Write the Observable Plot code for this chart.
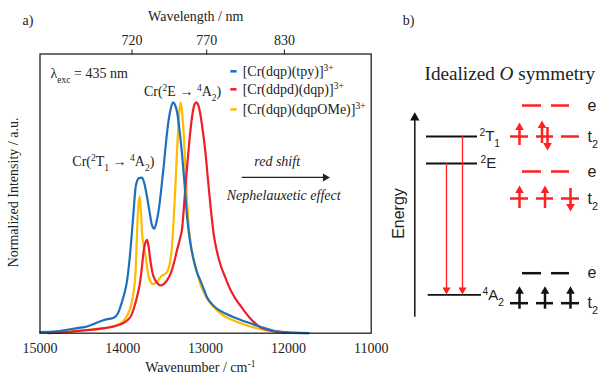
<!DOCTYPE html>
<html>
<head>
<meta charset="utf-8">
<script src="https://cdn.jsdelivr.net/npm/d3@7"></script>
<script src="https://cdn.jsdelivr.net/npm/@observablehq/plot@0.6"></script>
<style>
  body { margin: 0; background: white; }
  #wrap { position: relative; width: 598px; height: 377px; overflow: hidden; }
  #a { position: absolute; left: 0; top: 0; }
  #b { position: absolute; left: 370px; top: 0; width: 228px; }
</style>
</head>
<body>
<div id="wrap"><div id="a"></div><div id="b"></div></div>
<script>
// ---------- Panel a data ----------
const wavenumberTicks = [15000, 14000, 13000, 12000, 11000];
const wavelengthTicks = [720, 770, 830];

const seriesNames = ["[Cr(dqp)(tpy)]^{3+}", "[Cr(ddpd)(dqp)]^{3+}", "[Cr(dqp)(dqpOMe)]^{3+}"];
const seriesColors = ["#1f6fbf", "#ee1f25", "#ffbb00"];

const tpyWn  = [15000,14800,14672,14550,14431,14350,14270,14200,14110,14060,14030,13990,13948,13908,13888,13869,13842,13805,13767,13737,13707,13672,13647,13619,13595,13567,13537,13507,13477,13447,13420,13393,13370,13345,13315,13285,13255,13224,13184,13145,13105,13064,13020,12983,12920,12862,12760,12661,12560,12460,12360,12259,12138,12000,11760];
const tpyInt = [0.005,0.008,0.015,0.022,0.029,0.040,0.052,0.060,0.067,0.085,0.113,0.160,0.229,0.359,0.445,0.532,0.640,0.672,0.674,0.645,0.590,0.515,0.467,0.453,0.480,0.532,0.620,0.720,0.830,0.922,0.975,1.000,0.990,0.960,0.880,0.778,0.650,0.505,0.390,0.320,0.265,0.229,0.190,0.156,0.125,0.106,0.085,0.069,0.055,0.043,0.030,0.019,0.007,0.002,0.000];

const ddpdWn  = [14900,14700,14600,14472,14270,14069,13948,13900,13868,13820,13788,13765,13747,13725,13707,13690,13667,13640,13607,13570,13534,13500,13466,13420,13386,13345,13305,13285,13255,13224,13194,13164,13135,13112,13090,13064,13035,13004,12975,12943,12903,12863,12823,12760,12702,12640,12581,12520,12460,12400,12339,12260,12179,11938,11760];
const ddpdInt = [0.000,0.004,0.008,0.012,0.020,0.033,0.055,0.075,0.106,0.170,0.229,0.300,0.360,0.395,0.405,0.380,0.315,0.260,0.229,0.212,0.207,0.215,0.229,0.260,0.300,0.360,0.416,0.450,0.580,0.720,0.840,0.937,0.990,1.000,0.990,0.950,0.880,0.790,0.680,0.560,0.430,0.355,0.300,0.240,0.190,0.150,0.120,0.090,0.064,0.043,0.026,0.015,0.009,0.003,0.000];

const omeWn  = [14800,14600,14450,14270,14150,14069,14000,13948,13900,13868,13845,13830,13810,13796,13782,13767,13727,13687,13660,13647,13617,13587,13550,13526,13495,13466,13440,13426,13405,13393,13370,13345,13320,13302,13285,13265,13245,13224,13205,13184,13145,13100,13064,12990,12903,12800,12661,12460,12259,12138,12050];
const omeInt = [0.003,0.008,0.013,0.019,0.027,0.036,0.050,0.077,0.120,0.185,0.270,0.420,0.560,0.593,0.530,0.432,0.340,0.243,0.220,0.214,0.215,0.221,0.240,0.250,0.255,0.265,0.290,0.315,0.380,0.445,0.600,0.790,0.950,1.000,0.960,0.866,0.720,0.575,0.470,0.400,0.315,0.260,0.214,0.155,0.113,0.080,0.055,0.029,0.012,0.004,0.000];

// ---------- Panel b data ----------
const levelNames  = ["^{2}T_{1}", "^{2}E", "^{4}A_{2}"];
const levelEnergy = [158.3, 131.3, 0];
const transitionFrom = [131.3, 158.3];
const transitionX = [446, 462];

const orbitalRowEnergy = [189.3, 158.3, 123.3, 96.3, 21.6, -8.4];
const orbitalRowType   = ["e", "t2", "e", "t2", "e", "t2"];
const orbitalRowColor  = ["#ff2020", "#ff2020", "#ff2020", "#ff2020", "#111111", "#111111"];
const eSlots  = [[522, 541], [551, 569]];
const t2Slots = [[510, 528], [536, 553], [561, 579]];
// spins for t2 rows (row index -> per slot): "u" up, "d" down, "ud" pair, "" empty
const t2Spins = {1: ["u", "ud", ""], 3: ["u", "u", "d"], 5: ["u", "u", "u"]};
const t2SpinLift = {1: 1, 3: 0, 5: 4};

// ---------- helpers ----------
function richify(svg) {
  d3.select(svg).selectAll("text").each(function () {
    const s = this.textContent;
    if (!/(\^\{|_\{|\*)/.test(s)) return;
    let target = this;
    if (this.children.length === 1 && this.children[0].tagName === "tspan") target = this.children[0];
    target.textContent = "";
    const parts = s.split(/(\^\{[^}]*\}|_\{[^}]*\}|\*[^*]*\*)/).filter(p => p);
    for (const p of parts) {
      const t = document.createElementNS("http://www.w3.org/2000/svg", "tspan");
      if (p.startsWith("^{")) {
        t.textContent = p.slice(2, -1);
        t.setAttribute("baseline-shift", "super");
        t.setAttribute("font-size", "68%");
      } else if (p.startsWith("_{")) {
        t.textContent = p.slice(2, -1);
        t.setAttribute("baseline-shift", "sub");
        t.setAttribute("font-size", "68%");
      } else if (p.startsWith("*")) {
        t.textContent = p.slice(1, -1);
        t.setAttribute("font-style", "italic");
      } else {
        t.textContent = p;
      }
      target.appendChild(t);
    }
  });
}

// ---------- Panel a ----------
const rows = (wn, I) => wn.map((w, i) => ({wn: w, I: I[i]}));
const tpy = rows(tpyWn, tpyInt), ddpd = rows(ddpdWn, ddpdInt), ome = rows(omeWn, omeInt);

const legendY = [1.135, 1.057, 0.970];
const legend = seriesNames.map((n, i) => ({name: n, color: seriesColors[i], y: legendY[i]}));

const serif = "Liberation Serif, Times New Roman, serif";
const sans = "Liberation Sans, Arial, sans-serif";

const plotA = Plot.plot({
  width: 400, height: 377,
  marginLeft: 39.5, marginRight: 29.3, marginTop: 53.5, marginBottom: 44.3,
  style: {fontFamily: serif, fontSize: "14px", background: "transparent", overflow: "visible", color: "#222"},
  x: {domain: [15000, 11000], axis: null},
  y: {domain: [0, 1.21], axis: null},
  marks: [
    Plot.line(ome,  {x: "wn", y: "I", stroke: seriesColors[2], strokeWidth: 2.2, curve: "monotone-x"}),
    Plot.line(ddpd, {x: "wn", y: "I", stroke: seriesColors[1], strokeWidth: 2.2, curve: "monotone-x"}),
    Plot.line(tpy,  {x: "wn", y: "I", stroke: seriesColors[0], strokeWidth: 2.2, curve: "monotone-x"}),
    Plot.frame({stroke: "#222", strokeWidth: 1.3}),
    Plot.axisX(wavenumberTicks, {anchor: "bottom", tickFormat: d => String(d), tickSize: 0, tickPadding: 10, label: null, fontSize: 14}),
    Plot.axisX(wavelengthTicks.map(l => 1e7 / l), {anchor: "top", tickFormat: d => String(Math.round(1e7 / d)), tickSize: 5, tickPadding: 4, label: null, fontSize: 14}),
    // axis titles
    Plot.text(["Wavelength / nm"], {x: 13119, y: 1.373, text: d => d, fontSize: 14}),
    Plot.text(["Wavenumber / cm^{-1}"], {x: 13064, y: -0.149, text: d => d, fontSize: 14}),
    Plot.text(["Normalized Intensity / a.u."], {x: 15320, y: 0.61, rotate: -90, text: d => d, fontSize: 14}),
    Plot.text(["a)"], {x: 15145, y: 1.356, text: d => d, fontSize: 14}),
    // legend
    Plot.ruleY(legend, {y: "y", x1: 12695, x2: 12620, stroke: "color", strokeWidth: 2.5}),
    Plot.text(legend, {x: 12552, y: "y", text: "name", textAnchor: "start", fontSize: 14}),
    // annotations
    Plot.text(["\u03BB_{exc} = 435 nm"], {x: 14873, y: 1.126, text: d => d, textAnchor: "start", fontSize: 14}),
    Plot.text(["Cr(^{2}E \u2192 ^{4}A_{2})"], {x: 12811, y: 1.048, text: d => d, textAnchor: "end", fontSize: 14}),
    Plot.text(["Cr(^{2}T_{1} \u2192 ^{4}A_{2})"], {x: 14114, y: 0.742, text: d => d, fontSize: 14}),
    Plot.text(["red shift"], {x: 12136, y: 0.742, text: d => d, fontStyle: "italic", fontSize: 14}),
    Plot.ruleY([0.675], {x1: 12558, x2: 11570, stroke: "#222", strokeWidth: 1.2}),
    Plot.dot([0.675], {x: 11555, y: d => d, symbol: "triangle", rotate: 90, r: 3, fill: "#222", stroke: "none"}),
    Plot.text(["Nephelauxetic effect"], {x: 12057, y: 0.597, text: d => d, fontStyle: "italic", fontSize: 14})
  ]
});
richify(plotA);
document.getElementById("a").appendChild(plotA);

// ---------- Panel b ----------
const levels = levelNames.map((n, i) => ({name: n, E: levelEnergy[i]}));
const levelX1 = [426, 426, 427.7], levelX2 = [477, 477, 481], levelLabelX = [479, 480, 482];
levels.forEach((d, i) => { d.x1 = levelX1[i]; d.x2 = levelX2[i]; d.lx = levelLabelX[i]; });

const bars = [], spinLines = [], spinHeads = [], rowLabels = [];
orbitalRowEnergy.forEach((E, r) => {
  const type = orbitalRowType[r], color = orbitalRowColor[r];
  const slots = type === "e" ? eSlots : t2Slots;
  rowLabels.push({E, color: "#222", label: type === "e" ? "e" : "t_{2}"});
  slots.forEach(([a, b], s) => {
    bars.push({E, x1: a, x2: b, color});
    if (type === "t2") {
      const spin = t2Spins[r][s];
      const lift = t2SpinLift[r];
      const cx = (a + b) / 2;
      const add = (x, dir, off) => {
        const c = E + off + lift;
        spinLines.push({x, y1: c - 10 * dir, y2: c + 7 * dir, color});
        spinHeads.push({x, y: c + 8 * dir, rot: dir > 0 ? 0 : 180, color});
      };
      if (spin === "u") add(cx, 1, 0);
      else if (spin === "d") add(cx, -1, 0);
      else if (spin === "ud") { add(cx - 3, 1, 2); add(cx + 2.5, -1, -2); }
    }
  });
});

const plotB = Plot.plot({
  width: 228, height: 377,
  marginLeft: 0, marginRight: 0, marginTop: 0, marginBottom: 0,
  style: {fontFamily: sans, fontSize: "15px", background: "transparent", overflow: "visible", color: "#222"},
  x: {domain: [370, 598], axis: null},
  y: {domain: [-82.7, 294.3], axis: null},
  marks: [
    Plot.text(["b)"], {x: 408, y: 274.3, text: d => d, fontFamily: serif, fontSize: 14}),
    Plot.text(["Idealized *O* symmetry"], {x: 424, y: 220.8, text: d => d, textAnchor: "start", fontFamily: serif, fontSize: 19.2}),
    // energy axis
    Plot.ruleX([414.3], {x: d => d, y1: -22.4, y2: 176, stroke: "#111", strokeWidth: 1.5}),
    Plot.dot([414.3], {x: d => d, y: 177, symbol: "triangle", r: 3.5, fill: "#111", stroke: "none"}),
    Plot.text(["Energy"], {x: 398, y: 81.3, text: d => d, rotate: -90, fontSize: 16}),
    // state levels
    Plot.ruleY(levels, {y: "E", x1: "x1", x2: "x2", stroke: "#111", strokeWidth: 1.8}),
    Plot.text(levels, {x: "lx", y: "E", text: "name", textAnchor: "start", fontSize: 15}),
    // emission transitions
    Plot.ruleX(transitionX, {x: d => d, y1: (d, i) => transitionFrom[i], y2: 6, stroke: "#ff2020", strokeWidth: 1.3}),
    Plot.dot(transitionX, {x: d => d, y: 5, symbol: "triangle", rotate: 180, r: 3, fill: "#ff2020", stroke: "none"}),
    // orbital diagrams
    Plot.ruleY(bars, {y: "E", x1: "x1", x2: "x2", stroke: "color", strokeWidth: 2.5}),
    Plot.ruleX(spinLines, {x: "x", y1: "y1", y2: "y2", stroke: "color", strokeWidth: 2.5}),
    Plot.dot(spinHeads, {x: "x", y: "y", symbol: "triangle", rotate: "rot", r: 3.2, fill: "color", stroke: "none"}),
    Plot.text(rowLabels, {x: 587, y: "E", text: "label", textAnchor: "start", fontSize: 16})
  ]
});
richify(plotB);
document.getElementById("b").appendChild(plotB);
</script>
</body>
</html>
